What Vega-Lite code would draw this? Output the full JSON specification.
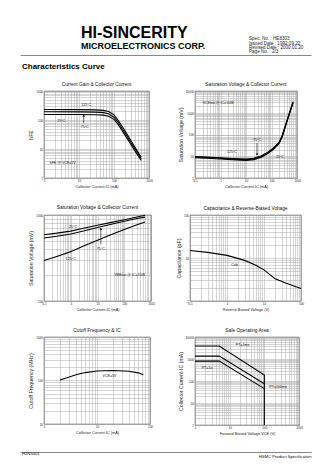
{
  "$schema": "https://vega.github.io/schema/vega-lite/v6.json",
  "background": "white",
  "padding": {"left": 22, "top": 25, "right": 5, "bottom": 5},
  "config": {
    "font": "Liberation Sans",
    "view": {"stroke": "#444", "strokeWidth": 0.7},
    "axis": {"grid": true, "gridColor": "#a0a0a0", "gridWidth": 0.45, "ticks": false, "domain": false, "labelFontSize": 3, "labelColor": "#222", "labelPadding": 1.5, "labelFlush": false, "labelOverlap": false, "labelBound": false, "titleFontWeight": "normal", "titleColor": "#222", "titlePadding": 2},
    "axisX": {"titleFontSize": 3.8},
    "axisY": {"titleFontSize": 5.2},
    "title": {"fontSize": 4.8, "fontWeight": "normal", "offset": 3, "color": "#111"},
    "line": {"color": "black", "strokeWidth": 1.1},
    "text": {"fontSize": 3.6, "color": "#111"}
  },
  "datasets": {
    "hfe": [
      {"ic": 1, "hfe": 230, "temp": "125°C"}, {"ic": 10, "hfe": 228, "temp": "125°C"}, {"ic": 30, "hfe": 224, "temp": "125°C"}, {"ic": 50, "hfe": 215, "temp": "125°C"}, {"ic": 70, "hfe": 195, "temp": "125°C"}, {"ic": 100, "hfe": 150, "temp": "125°C"}, {"ic": 130, "hfe": 100, "temp": "125°C"}, {"ic": 200, "hfe": 45, "temp": "125°C"}, {"ic": 300, "hfe": 20, "temp": "125°C"}, {"ic": 450, "hfe": 9, "temp": "125°C"}, {"ic": 600, "hfe": 5.2, "temp": "125°C"},
      {"ic": 1, "hfe": 192, "temp": "75°C"}, {"ic": 10, "hfe": 190, "temp": "75°C"}, {"ic": 30, "hfe": 187, "temp": "75°C"}, {"ic": 50, "hfe": 180, "temp": "75°C"}, {"ic": 70, "hfe": 165, "temp": "75°C"}, {"ic": 100, "hfe": 125, "temp": "75°C"}, {"ic": 130, "hfe": 85, "temp": "75°C"}, {"ic": 200, "hfe": 38, "temp": "75°C"}, {"ic": 300, "hfe": 17, "temp": "75°C"}, {"ic": 450, "hfe": 8, "temp": "75°C"}, {"ic": 600, "hfe": 4.6, "temp": "75°C"},
      {"ic": 1, "hfe": 155, "temp": "25°C"}, {"ic": 10, "hfe": 154, "temp": "25°C"}, {"ic": 30, "hfe": 152, "temp": "25°C"}, {"ic": 50, "hfe": 147, "temp": "25°C"}, {"ic": 70, "hfe": 135, "temp": "25°C"}, {"ic": 100, "hfe": 105, "temp": "25°C"}, {"ic": 130, "hfe": 72, "temp": "25°C"}, {"ic": 200, "hfe": 32, "temp": "25°C"}, {"ic": 300, "hfe": 14.5, "temp": "25°C"}, {"ic": 450, "hfe": 6.8, "temp": "25°C"}, {"ic": 600, "hfe": 4, "temp": "25°C"}
    ],
    "vcesat": [
      {"ic": 0.1, "vce": 9.8, "temp": "125°C"}, {"ic": 0.3, "vce": 9.3, "temp": "125°C"}, {"ic": 1, "vce": 8.6, "temp": "125°C"}, {"ic": 3, "vce": 7.9, "temp": "125°C"}, {"ic": 10, "vce": 7.4, "temp": "125°C"}, {"ic": 20, "vce": 8, "temp": "125°C"}, {"ic": 40, "vce": 10.5, "temp": "125°C"}, {"ic": 70, "vce": 15, "temp": "125°C"}, {"ic": 120, "vce": 24, "temp": "125°C"}, {"ic": 200, "vce": 45, "temp": "125°C"}, {"ic": 260, "vce": 85, "temp": "125°C"}, {"ic": 400, "vce": 420, "temp": "125°C"}, {"ic": 700, "vce": 3200, "temp": "125°C"},
      {"ic": 0.1, "vce": 9.2, "temp": "75°C"}, {"ic": 0.3, "vce": 8.7, "temp": "75°C"}, {"ic": 1, "vce": 8.1, "temp": "75°C"}, {"ic": 3, "vce": 7.4, "temp": "75°C"}, {"ic": 10, "vce": 6.9, "temp": "75°C"}, {"ic": 20, "vce": 7.5, "temp": "75°C"}, {"ic": 40, "vce": 9.8, "temp": "75°C"}, {"ic": 70, "vce": 14, "temp": "75°C"}, {"ic": 120, "vce": 22.5, "temp": "75°C"}, {"ic": 200, "vce": 42, "temp": "75°C"}, {"ic": 260, "vce": 80, "temp": "75°C"}, {"ic": 400, "vce": 400, "temp": "75°C"}, {"ic": 700, "vce": 3000, "temp": "75°C"},
      {"ic": 0.1, "vce": 8.6, "temp": "25°C"}, {"ic": 0.3, "vce": 8.1, "temp": "25°C"}, {"ic": 1, "vce": 7.5, "temp": "25°C"}, {"ic": 3, "vce": 6.9, "temp": "25°C"}, {"ic": 10, "vce": 6.4, "temp": "25°C"}, {"ic": 20, "vce": 7, "temp": "25°C"}, {"ic": 40, "vce": 9.1, "temp": "25°C"}, {"ic": 70, "vce": 13, "temp": "25°C"}, {"ic": 120, "vce": 21, "temp": "25°C"}, {"ic": 200, "vce": 39, "temp": "25°C"}, {"ic": 260, "vce": 75, "temp": "25°C"}, {"ic": 400, "vce": 380, "temp": "25°C"}, {"ic": 700, "vce": 2850, "temp": "25°C"}
    ],
    "vbesat": [
      {"ic": 0.1, "vbe": 590, "temp": "25°C"}, {"ic": 0.3, "vbe": 615, "temp": "25°C"}, {"ic": 1, "vbe": 650, "temp": "25°C"}, {"ic": 3, "vbe": 700, "temp": "25°C"}, {"ic": 10, "vbe": 760, "temp": "25°C"}, {"ic": 30, "vbe": 815, "temp": "25°C"}, {"ic": 100, "vbe": 880, "temp": "25°C"}, {"ic": 300, "vbe": 950, "temp": "25°C"}, {"ic": 600, "vbe": 995, "temp": "25°C"},
      {"ic": 0.1, "vbe": 540, "temp": "75°C"}, {"ic": 0.3, "vbe": 565, "temp": "75°C"}, {"ic": 1, "vbe": 600, "temp": "75°C"}, {"ic": 3, "vbe": 650, "temp": "75°C"}, {"ic": 10, "vbe": 715, "temp": "75°C"}, {"ic": 30, "vbe": 775, "temp": "75°C"}, {"ic": 100, "vbe": 845, "temp": "75°C"}, {"ic": 300, "vbe": 910, "temp": "75°C"}, {"ic": 600, "vbe": 945, "temp": "75°C"},
      {"ic": 0.1, "vbe": 295, "temp": "125°C"}, {"ic": 0.3, "vbe": 330, "temp": "125°C"}, {"ic": 1, "vbe": 375, "temp": "125°C"}, {"ic": 3, "vbe": 435, "temp": "125°C"}, {"ic": 10, "vbe": 510, "temp": "125°C"}, {"ic": 30, "vbe": 585, "temp": "125°C"}, {"ic": 100, "vbe": 680, "temp": "125°C"}, {"ic": 300, "vbe": 770, "temp": "125°C"}, {"ic": 600, "vbe": 830, "temp": "125°C"}
    ],
    "cob": [
      {"vr": 0.1, "cob": 15}, {"vr": 0.3, "cob": 13.5}, {"vr": 1, "cob": 11.5}, {"vr": 3, "cob": 8.8}, {"vr": 6, "cob": 6.8}, {"vr": 10, "cob": 5.3}, {"vr": 15, "cob": 4.0}, {"vr": 20, "cob": 3.3}, {"vr": 40, "cob": 2.6}, {"vr": 100, "cob": 1.95}
    ],
    "ft": [
      {"ic": 2, "ft": 103}, {"ic": 3, "ft": 120}, {"ic": 4, "ft": 135}, {"ic": 6, "ft": 152}, {"ic": 10, "ft": 165}, {"ic": 20, "ft": 170}, {"ic": 40, "ft": 163}, {"ic": 60, "ft": 150}, {"ic": 75, "ft": 135}
    ],
    "soa": [
      {"vce": 1, "ic": 3900, "pt": "1ms"}, {"vce": 5, "ic": 3900, "pt": "1ms"}, {"vce": 100, "ic": 185, "pt": "1ms"}, {"vce": 100, "ic": 1, "pt": "1ms"},
      {"vce": 1, "ic": 1350, "pt": "100ms"}, {"vce": 5, "ic": 1350, "pt": "100ms"}, {"vce": 100, "ic": 75, "pt": "100ms"},
      {"vce": 1, "ic": 800, "pt": "1s"}, {"vce": 5, "ic": 800, "pt": "1s"}, {"vce": 100, "ic": 45, "pt": "1s"}
    ]
  },
  "spacing": 10,
  "vconcat": [
    {
      "spacing": 0,
      "vconcat": [
        {
          "spacing": 10,
          "hconcat": [
            {
              "width": 195, "height": 1,
              "data": {"values": []},
              "mark": "point",
              "view": {"stroke": null},
              "title": {"text": "HI-SINCERITY", "subtitle": "MICROELECTRONICS CORP.", "anchor": "start", "dx": 37, "fontSize": 16, "fontWeight": "bold", "color": "black", "subtitleFontSize": 9, "subtitleFontWeight": "bold", "subtitleColor": "black", "subtitlePadding": 1, "offset": 3}
            },
            {
              "width": 55, "height": 1,
              "data": {"values": []},
              "mark": "point",
              "view": {"stroke": null},
              "title": {"text": ["Spec. No. : HE8303", "Issued Date : 1992.09.22", "Revised Date : 2000.01.20", "Page No. : 2/3"], "anchor": "start", "dy": 3, "fontSize": 4.6, "lineHeight": 4.4, "fontWeight": "normal", "color": "#222", "offset": 3}
            }
          ]
        },
        {
          "width": 267, "height": 1,
          "data": {"values": []},
          "mark": "point",
          "view": {"stroke": null},
          "encoding": {"x": {"field": "p", "type": "quantitative", "scale": {"domain": [0, 1], "range": [-24, 267]}, "axis": {"orient": "top", "domain": true, "domainColor": "#888", "domainWidth": 1, "ticks": false, "labels": false, "grid": false, "title": null}}},
          "title": {"text": "Characteristics Curve", "orient": "bottom", "anchor": "start", "dx": -22, "fontSize": 8, "fontWeight": "bold", "color": "black", "offset": 7}
        }
      ]
    },
    {
      "spacing": 15,
      "vconcat": [
        {
          "spacing": 24,
          "hconcat": [
            {
              "title": "Current Gain & Collector Current",
              "width": 105, "height": 87,
              "encoding": {
                "x": {"field": "ic", "type": "quantitative", "scale": {"type": "log", "domain": [1, 1000], "nice": false}, "axis": {"title": "Collector Current-IC (mA)", "format": "~g", "values": [1,2,3,4,5,6,7,8,9,10,20,30,40,50,60,70,80,90,100,200,300,400,500,600,700,800,900,1000], "labelExpr": "indexof([0.1,1,10,100,1000,10000], datum.value) >= 0 ? datum.label : ''"}},
                "y": {"field": "hfe", "type": "quantitative", "scale": {"type": "log", "domain": [1, 1000], "nice": false}, "axis": {"title": "hFE", "format": "~g", "values": [1,2,3,4,5,6,7,8,9,10,20,30,40,50,60,70,80,90,100,200,300,400,500,600,700,800,900,1000], "labelExpr": "indexof([0.1,1,10,100,1000,10000], datum.value) >= 0 ? datum.label : ''"}}
              },
              "layer": [
                {"data": {"name": "hfe"}, "mark": "line", "encoding": {"detail": {"field": "temp"}}},
                {"data": {"values": [{"ic": 16, "hfe": 330, "label": "125°C"}, {"ic": 3.1, "hfe": 92, "label": "25°C"}, {"ic": 14.5, "hfe": 57, "label": "75°C"}]}, "mark": {"type": "text", "align": "center", "baseline": "middle"}, "encoding": {"text": {"field": "label"}}},
                {"data": {"values": [{"ic": 1.45, "hfe": 3.4, "label": "hFE @ VCE=5V"}]}, "mark": {"type": "text", "align": "left", "baseline": "middle"}, "encoding": {"text": {"field": "label"}}},
                {"data": {"values": [{"ic": 13.6, "hfe": 150, "hfe2": 78}]}, "mark": {"type": "rule", "strokeWidth": 0.6, "color": "black"}, "encoding": {"y2": {"field": "hfe2"}}},
                {"data": {"values": [{"ic": 13.6, "hfe": 145}]}, "mark": {"type": "point", "shape": "triangle-up", "filled": true, "size": 6, "color": "black", "opacity": 1}}
              ]
            },
            {
              "title": "Saturation Voltage & Collector Current",
              "width": 102, "height": 87,
              "encoding": {
                "x": {"field": "ic", "type": "quantitative", "scale": {"type": "log", "domain": [0.1, 1000], "nice": false}, "axis": {"title": "Collector Current-IC (mA)", "format": "~g", "values": [0.1,0.2,0.3,0.4,0.5,0.6,0.7,0.8,0.9,1,2,3,4,5,6,7,8,9,10,20,30,40,50,60,70,80,90,100,200,300,400,500,600,700,800,900,1000], "labelExpr": "indexof([0.1,1,10,100,1000,10000], datum.value) >= 0 ? datum.label : ''"}},
                "y": {"field": "vce", "type": "quantitative", "scale": {"type": "log", "domain": [1, 10000], "nice": false}, "axis": {"title": "Saturation Voltage (mV)", "format": "~g", "values": [1,2,3,4,5,6,7,8,9,10,20,30,40,50,60,70,80,90,100,200,300,400,500,600,700,800,900,1000,2000,3000,4000,5000,6000,7000,8000,9000,10000], "labelExpr": "indexof([0.1,1,10,100,1000,10000], datum.value) >= 0 ? datum.label : ''"}}
              },
              "layer": [
                {"data": {"name": "vcesat"}, "mark": "line", "encoding": {"detail": {"field": "temp"}}},
                {"data": {"values": [{"ic": 2.8, "vce": 16, "label": "125°C"}, {"ic": 27, "vce": 55, "label": "75°C"}, {"ic": 214, "vce": 9.5, "label": "25°C"}]}, "mark": {"type": "text", "align": "center", "baseline": "middle"}, "encoding": {"text": {"field": "label"}}},
                {"data": {"values": [{"ic": 0.2, "vce": 2900, "label": "VCEsat @ IC=10IB"}]}, "mark": {"type": "text", "align": "left", "baseline": "middle"}, "encoding": {"text": {"field": "label"}}},
                {"data": {"values": [{"ic": 27, "vce": 40, "vce2": 11}]}, "mark": {"type": "rule", "strokeWidth": 0.6, "color": "black"}, "encoding": {"y2": {"field": "vce2"}}},
                {"data": {"values": [{"ic": 27, "vce": 12}]}, "mark": {"type": "point", "shape": "triangle-down", "filled": true, "size": 6, "color": "black", "opacity": 1}}
              ]
            }
          ]
        },
        {
          "spacing": 21,
          "hconcat": [
            {
              "title": "Saturation Voltage & Collector Current",
              "width": 107, "height": 86,
              "encoding": {
                "x": {"field": "ic", "type": "quantitative", "scale": {"type": "log", "domain": [0.1, 1000], "nice": false}, "axis": {"title": "Collector Current-IC (mA)", "format": "~g", "values": [0.1,0.2,0.3,0.4,0.5,0.6,0.7,0.8,0.9,1,2,3,4,5,6,7,8,9,10,20,30,40,50,60,70,80,90,100,200,300,400,500,600,700,800,900,1000], "labelExpr": "indexof([0.1,1,10,100,1000,10000], datum.value) >= 0 ? datum.label : ''"}},
                "y": {"field": "vbe", "type": "quantitative", "scale": {"type": "log", "domain": [100, 1000], "nice": false}, "axis": {"title": "Saturation Voltage (mV)", "format": "~g", "values": [100,200,300,400,500,600,700,800,900,1000], "labelExpr": "indexof([0.1,1,10,100,1000,10000], datum.value) >= 0 ? datum.label : ''"}}
              },
              "layer": [
                {"data": {"name": "vbesat"}, "mark": "line", "encoding": {"detail": {"field": "temp"}}},
                {"data": {"values": [{"ic": 1.22, "vbe": 718, "label": "25°C"}, {"ic": 13.3, "vbe": 401, "label": "75°C"}, {"ic": 1.0, "vbe": 312, "label": "125°C"}]}, "mark": {"type": "text", "align": "center", "baseline": "middle"}, "encoding": {"text": {"field": "label"}}},
                {"data": {"values": [{"ic": 42, "vbe": 200, "label": "VBEsat @ IC=10IB"}]}, "mark": {"type": "text", "align": "left", "baseline": "middle"}, "encoding": {"text": {"field": "label"}}},
                {"data": {"values": [{"ic": 13.3, "vbe": 700, "vbe2": 455}]}, "mark": {"type": "rule", "strokeWidth": 0.6, "color": "black"}, "encoding": {"y2": {"field": "vbe2"}}},
                {"data": {"values": [{"ic": 13.3, "vbe": 690}]}, "mark": {"type": "point", "shape": "triangle-up", "filled": true, "size": 6, "color": "black", "opacity": 1}}
              ]
            },
            {
              "title": "Capacitance & Reverse-Biased Voltage",
              "width": 111, "height": 86,
              "encoding": {
                "x": {"field": "vr", "type": "quantitative", "scale": {"type": "log", "domain": [0.1, 100], "nice": false}, "axis": {"title": "Reverse Biased Voltage (V)", "format": "~g", "values": [0.1,0.2,0.3,0.4,0.5,0.6,0.7,0.8,0.9,1,2,3,4,5,6,7,8,9,10,20,30,40,50,60,70,80,90,100], "labelExpr": "indexof([0.1,1,10,100,1000,10000], datum.value) >= 0 ? datum.label : ''"}},
                "y": {"field": "cob", "type": "quantitative", "scale": {"type": "log", "domain": [1, 100], "nice": false}, "axis": {"title": "Capacitance (pF)", "format": "~g", "values": [1,2,3,4,5,6,7,8,9,10,20,30,40,50,60,70,80,90,100], "labelExpr": "indexof([0.1,1,10,100,1000,10000], datum.value) >= 0 ? datum.label : ''"}}
              },
              "layer": [
                {"data": {"name": "cob"}, "mark": "line"},
                {"data": {"values": [{"vr": 1.6, "cob": 6.8, "label": "Cob"}]}, "mark": {"type": "text", "align": "center", "baseline": "middle"}, "encoding": {"text": {"field": "label"}}}
              ]
            }
          ]
        },
        {
          "spacing": 24,
          "hconcat": [
            {
              "title": "Cutoff Frequency & IC",
              "width": 106, "height": 87,
              "encoding": {
                "x": {"field": "ic", "type": "quantitative", "scale": {"type": "log", "domain": [1, 100], "nice": false}, "axis": {"title": "Collector Current-IC (mA)", "format": "~g", "values": [1,2,3,4,5,6,7,8,9,10,20,30,40,50,60,70,80,90,100], "labelExpr": "indexof([0.1,1,10,100,1000,10000], datum.value) >= 0 ? datum.label : ''"}},
                "y": {"field": "ft", "type": "quantitative", "scale": {"type": "log", "domain": [10, 1000], "nice": false}, "axis": {"title": "Cutoff Frequency (MHz)", "format": "~g", "values": [10,20,30,40,50,60,70,80,90,100,200,300,400,500,600,700,800,900,1000], "labelExpr": "indexof([0.1,1,10,100,1000,10000], datum.value) >= 0 ? datum.label : ''"}}
              },
              "layer": [
                {"data": {"name": "ft"}, "mark": "line"},
                {"data": {"values": [{"ic": 12.7, "ft": 128, "label": "VCE=5V"}]}, "mark": {"type": "text", "align": "left", "baseline": "middle"}, "encoding": {"text": {"field": "label"}}}
              ]
            },
            {
              "title": "Safe Operating Area",
              "width": 104, "height": 88,
              "encoding": {
                "x": {"field": "vce", "type": "quantitative", "scale": {"type": "log", "domain": [1, 1000], "nice": false}, "axis": {"title": "Forward Biased Voltage-VCE (V)", "format": "~g", "values": [1,2,3,4,5,6,7,8,9,10,20,30,40,50,60,70,80,90,100,200,300,400,500,600,700,800,900,1000], "labelExpr": "indexof([0.1,1,10,100,1000,10000], datum.value) >= 0 ? datum.label : ''"}},
                "y": {"field": "ic", "type": "quantitative", "scale": {"type": "log", "domain": [1, 10000], "nice": false}, "axis": {"title": "Collector Current-IC (mA)", "format": "~g", "values": [1,2,3,4,5,6,7,8,9,10,20,30,40,50,60,70,80,90,100,200,300,400,500,600,700,800,900,1000,2000,3000,4000,5000,6000,7000,8000,9000,10000], "labelExpr": "indexof([0.1,1,10,100,1000,10000], datum.value) >= 0 ? datum.label : ''"}}
              },
              "layer": [
                {"data": {"name": "soa"}, "mark": "line", "encoding": {"detail": {"field": "pt"}, "order": {"value": null}}},
                {"data": {"values": [{"vce": 15, "ic": 4500, "label": "PT=1ms"}, {"vce": 1.56, "ic": 400, "label": "PT=1s"}, {"vce": 139, "ic": 53, "label": "PT=100ms"}]}, "mark": {"type": "text", "align": "left", "baseline": "middle"}, "encoding": {"text": {"field": "label"}}}
              ]
            }
          ]
        },
        {
          "width": 267, "height": 1,
          "data": {"values": []},
          "mark": "point",
          "view": {"stroke": null},
          "encoding": {"x": {"field": "p", "type": "quantitative", "scale": {"domain": [0, 1], "range": [-24, 267]}, "axis": {"orient": "bottom", "domain": true, "domainColor": "#888", "domainWidth": 1, "ticks": false, "labels": false, "grid": false, "title": "HSMC Product Specification", "titleAnchor": "end", "titleFontSize": 4.2, "titlePadding": 2, "titleColor": "#111"}}},
          "title": {"text": "H2N5401", "orient": "bottom", "anchor": "start", "dx": -22, "fontSize": 4.2, "fontWeight": "normal", "offset": -6}
        }
      ]
    }
  ]
}
